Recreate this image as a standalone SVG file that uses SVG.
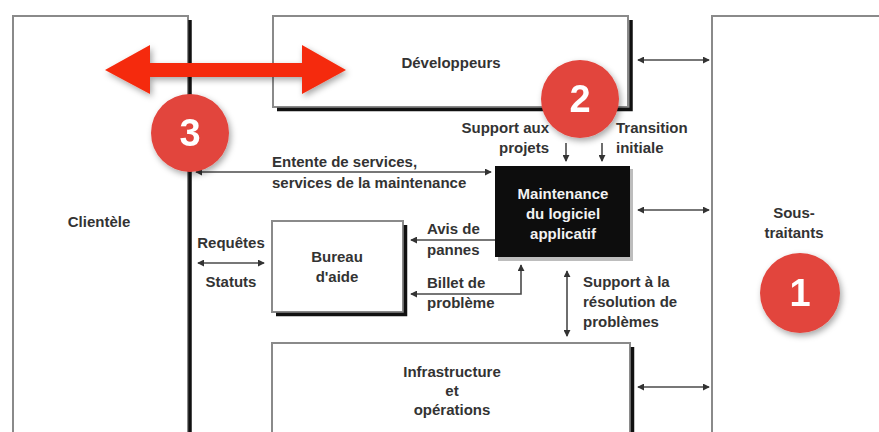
<svg xmlns="http://www.w3.org/2000/svg" width="879" height="432" viewBox="0 0 879 432">
  <style>
    .box { fill: #ffffff; stroke: #8a8a8a; stroke-width: 2; }
    .shadow { stroke: #111111; stroke-width: 3.5; fill: none; }
    .lbl { font-family: "Liberation Sans", Arial, sans-serif; font-weight: bold; font-size: 15px; fill: #333333; }
    .mid { text-anchor: middle; }
    .end { text-anchor: end; }
    .inv { fill: #f2f2f2; }
    .conn { stroke: #4a4a4a; stroke-width: 1.6; fill: none; }
    .badge { fill: #e2453d; }
    .num { font-family: "Liberation Sans", Arial, sans-serif; font-weight: bold; font-size: 38px; fill: #ffffff; text-anchor: middle; }
  </style>
  <defs>
    <marker id="ah" viewBox="0 0 8 8" refX="7" refY="4" markerWidth="7" markerHeight="7" markerUnits="userSpaceOnUse" orient="auto-start-reverse">
      <path d="M0,0 L8,4 L0,8 z" fill="#333333"/>
    </marker>
    <filter id="drop" x="-30%" y="-30%" width="160%" height="160%">
      <feDropShadow dx="2" dy="3" stdDeviation="3" flood-color="#000000" flood-opacity="0.35"/>
    </filter>
  </defs>

  <rect width="879" height="432" fill="#ffffff"/>

  <!-- Clientèle -->
  <g id="clientele">
    <rect class="box" x="13" y="16" width="175" height="430"/>
    <line class="shadow" x1="190" y1="20" x2="190" y2="432"/>
    <text class="lbl mid" x="99" y="227">Clientèle</text>
  </g>

  <!-- Développeurs -->
  <g id="developpeurs">
    <rect class="box" x="273" y="16" width="355" height="91"/>
    <polyline class="shadow" points="277,109.5 631,109.5 631,20"/>
    <text class="lbl mid" x="451" y="68">Développeurs</text>
  </g>

  <!-- Sous-traitants -->
  <g id="sous-traitants">
    <rect class="box" x="712" y="16" width="180" height="430"/>
    <text class="lbl mid" x="794" y="218">Sous-</text>
    <text class="lbl mid" x="794" y="238">traitants</text>
  </g>

  <!-- Maintenance du logiciel applicatif -->
  <g id="maintenance">
    <rect x="498" y="169" width="135" height="92" fill="#bdbdbd"/>
    <rect x="495" y="166" width="135" height="91" fill="#0d0d0d"/>
    <text class="lbl mid inv" x="563" y="199">Maintenance</text>
    <text class="lbl mid inv" x="563" y="219">du logiciel</text>
    <text class="lbl mid inv" x="563" y="239">applicatif</text>
  </g>

  <!-- Bureau d'aide -->
  <g id="bureau">
    <rect class="box" x="272" y="221" width="131" height="91"/>
    <polyline class="shadow" points="276,314.5 405.5,314.5 405.5,225"/>
    <text class="lbl mid" x="337" y="262">Bureau</text>
    <text class="lbl mid" x="337" y="282">d'aide</text>
  </g>

  <!-- Infrastructure et opérations -->
  <g id="infrastructure">
    <rect class="box" x="272" y="343" width="358" height="100"/>
    <line class="shadow" x1="632.5" y1="347" x2="632.5" y2="432"/>
    <text class="lbl mid" x="452" y="377">Infrastructure</text>
    <text class="lbl mid" x="452" y="396">et</text>
    <text class="lbl mid" x="452" y="415">opérations</text>
  </g>

  <!-- Connectors -->
  <g id="connectors">
    <line class="conn" x1="638" y1="60" x2="709" y2="60" marker-start="url(#ah)" marker-end="url(#ah)"/>
    <line class="conn" x1="638" y1="210" x2="709" y2="210" marker-start="url(#ah)" marker-end="url(#ah)"/>
    <line class="conn" x1="638" y1="387" x2="709" y2="387" marker-start="url(#ah)" marker-end="url(#ah)"/>
    <line class="conn" x1="196" y1="172" x2="491" y2="172" marker-start="url(#ah)" marker-end="url(#ah)"/>
    <line class="conn" x1="566" y1="143" x2="566" y2="161" marker-end="url(#ah)"/>
    <line class="conn" x1="602" y1="143" x2="602" y2="161" marker-end="url(#ah)"/>
    <line class="conn" x1="495" y1="240" x2="411" y2="240" marker-end="url(#ah)"/>
    <polyline class="conn" points="411,294 521,294 521,265" marker-start="url(#ah)" marker-end="url(#ah)"/>
    <line class="conn" x1="567" y1="271" x2="567" y2="336" marker-start="url(#ah)" marker-end="url(#ah)"/>
    <line class="conn" x1="198" y1="263" x2="264" y2="263" marker-start="url(#ah)" marker-end="url(#ah)"/>
  </g>

  <!-- Connector labels -->
  <g id="connector-labels">
    <text class="lbl" x="272" y="167">Entente de services,</text>
    <text class="lbl" x="272" y="188">services de la maintenance</text>
    <text class="lbl end" x="549" y="133">Support aux</text>
    <text class="lbl end" x="549" y="153">projets</text>
    <text class="lbl" x="616" y="133">Transition</text>
    <text class="lbl" x="616" y="153">initiale</text>
    <text class="lbl" x="427" y="234">Avis de</text>
    <text class="lbl" x="427" y="255">pannes</text>
    <text class="lbl" x="427" y="288">Billet de</text>
    <text class="lbl" x="427" y="308">problème</text>
    <text class="lbl" x="583" y="287">Support à la</text>
    <text class="lbl" x="583" y="307">résolution de</text>
    <text class="lbl" x="583" y="327">problèmes</text>
    <text class="lbl mid" x="231" y="248">Requêtes</text>
    <text class="lbl mid" x="231" y="287">Statuts</text>
  </g>

  <!-- Red overlay: two-way arrow and numbered badges -->
  <g id="overlay">
    <polygon filter="url(#drop)" fill="#f5290a" points="105,70 150,45 150,63 302,63 302,45 346,70 302,94 302,77 150,77 150,94"/>
    <g id="badge-3" filter="url(#drop)">
      <circle class="badge" cx="190" cy="133" r="39"/>
      <text class="num" x="190" y="146">3</text>
    </g>
    <g id="badge-2" filter="url(#drop)">
      <circle class="badge" cx="580" cy="99" r="39"/>
      <text class="num" x="580" y="112">2</text>
    </g>
    <g id="badge-1" filter="url(#drop)">
      <circle class="badge" cx="800" cy="293" r="40"/>
      <text class="num" x="800" y="306">1</text>
    </g>
  </g>
</svg>
